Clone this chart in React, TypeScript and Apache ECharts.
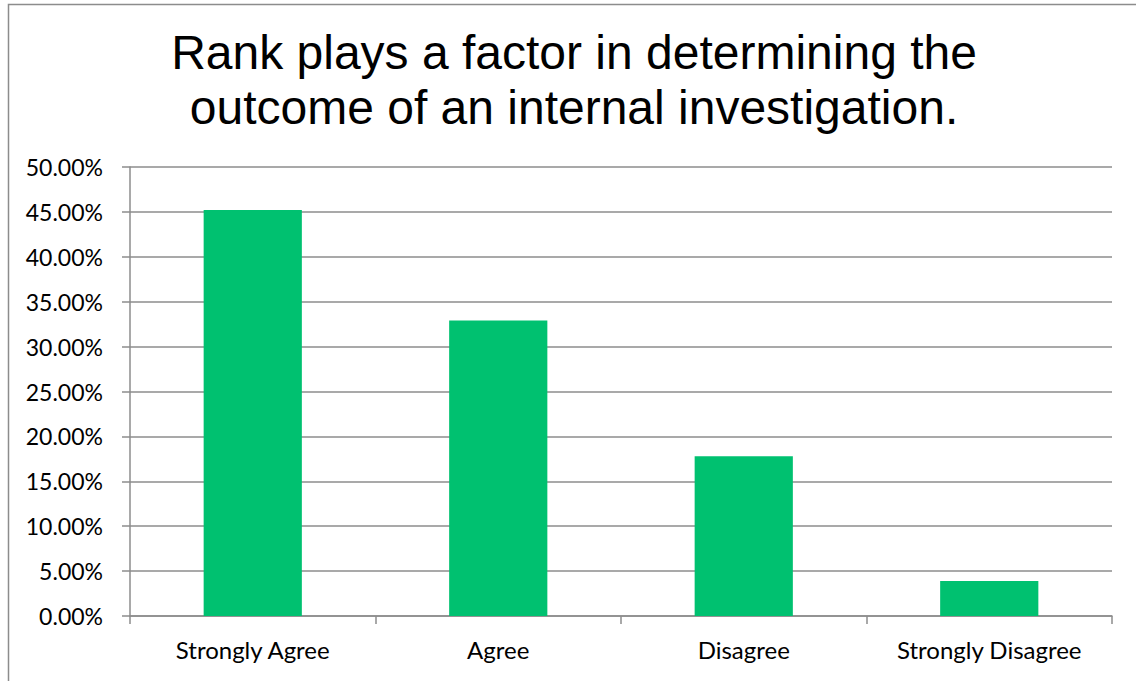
import React, { useEffect, useRef } from "react";
import * as echarts from "echarts";

const titleLines = [
  "Rank plays a factor in determining the",
  "outcome of an internal investigation.",
];
const categories = ["Strongly Agree", "Agree", "Disagree", "Strongly Disagree"];
const values = [45.2, 32.9, 17.8, 3.9];
const yMin = 0;
const yMax = 50;
const yInterval = 5;

export default function App() {
  const ref = useRef<HTMLDivElement>(null);
  useEffect(() => {
    if (!ref.current) return;
    const chart = echarts.init(ref.current, null, { renderer: "svg" });
    chart.setOption({
      animation: false,
      backgroundColor: "#ffffff",
      graphic: [
        {
          type: "rect",
          shape: { x: 8.5, y: 4.5, width: 1200, height: 800 },
          style: { fill: "none", stroke: "#8c8c8c", lineWidth: 1.5 },
          silent: true,
          z: 0,
        },
        {
          type: "text",
          x: 574,
          y: 25,
          style: {
            text: titleLines.join("\n"),
            fontFamily: "Liberation Sans, Arial, sans-serif",
            fontSize: 48,
            lineHeight: 55,
            fill: "#000000",
            align: "center",
            verticalAlign: "top",
          },
        },
      ],
      grid: { left: 130, right: 24, top: 167, bottom: 65 },
      xAxis: {
        type: "category",
        data: categories,
        boundaryGap: true,
        axisLine: { show: true, lineStyle: { color: "#8c8c8c", width: 1.5 } },
        axisTick: { show: true, length: 8, alignWithLabel: false, lineStyle: { color: "#8c8c8c", width: 1.5 } },
        axisLabel: {
          color: "#000000",
          fontSize: 24,
          fontFamily: "Lato, 'Open Sans', sans-serif",
          margin: 21,
        },
      },
      yAxis: {
        type: "value",
        min: yMin,
        max: yMax,
        interval: yInterval,
        axisLine: { show: true, lineStyle: { color: "#8c8c8c", width: 1.5 } },
        axisTick: { show: true, length: 8, lineStyle: { color: "#8c8c8c", width: 1.5 } },
        splitLine: { show: true, lineStyle: { color: "#8c8c8c", width: 1.5 } },
        axisLabel: {
          color: "#000000",
          fontSize: 23,
          fontFamily: "Lato, 'Open Sans', sans-serif",
          margin: 27,
          formatter: (v: number) => v.toFixed(2) + "%",
        },
      },
      series: [
        {
          type: "bar",
          data: values,
          barWidth: "40%",
          itemStyle: { color: "#00C170" },
        },
      ],
    });
    return () => chart.dispose();
  }, []);
  return (
    <div
      ref={ref}
      style={{ position: "absolute", left: 0, top: 0, width: 1136, height: 681 }}
    />
  );
}
